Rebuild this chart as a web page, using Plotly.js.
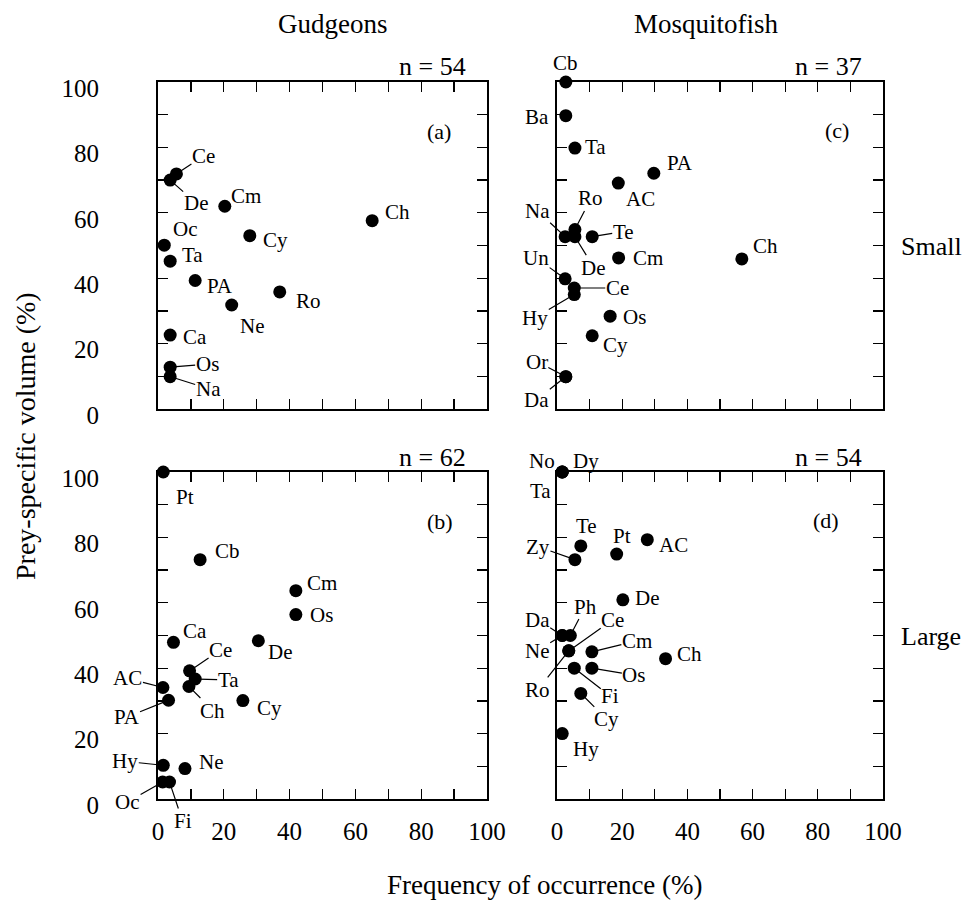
<!DOCTYPE html>
<html>
<head>
<meta charset="utf-8">
<script src="https://cdn.plot.ly/plotly-3.0.1.min.js"></script>
<style>html,body{margin:0;padding:0;background:#fff;}#chart{width:967px;height:901px;}</style>
</head>
<body>
<div id="chart"></div>
<script>
// ---------- DATA ----------
// (a) Gudgeons, Small
const aLabels = ['Ce','De','Cm','Ch','Oc','Cy','Ta','PA','Ro','Ne','Ca','Os','Na'];
const aFreq   = [5.6, 3.7, 20.3, 65.1, 1.9, 27.9, 3.7, 11.3, 37.0, 22.4, 3.7, 3.7, 3.7];
const aVol    = [71.9, 70.0, 62.0, 57.6, 50.1, 53.0, 45.2, 39.3, 35.8, 31.8, 22.6, 12.8, 9.9];

// (c) Mosquitofish, Small
const cLabels = ['Cb','Ba','Ta','PA','AC','Ro','Na','De','Te','Cm','Ch','Un','Ce','Hy','Os','Cy','Or','Da'];
const cFreq   = [2.7, 2.7, 5.5, 29.7, 18.8, 5.5, 2.5, 5.5, 10.8, 18.9, 56.7, 2.5, 5.3, 5.3, 16.3, 10.8, 2.7, 2.7];
const cVol    = [100, 89.7, 79.8, 72.1, 69.1, 54.9, 52.7, 52.7, 52.7, 46.2, 45.9, 39.8, 37.0, 35.0, 28.4, 22.4, 9.9, 9.9];

// (b) Gudgeons, Large
const bLabels = ['Pt','Cb','Cm','Os','Ca','De','Ce','Ta','Ch','AC','PA','Cy','Hy','Ne','Oc','Fi'];
const bFreq   = [1.6, 12.8, 41.9, 41.9, 4.7, 30.5, 9.6, 11.3, 9.4, 1.5, 3.2, 25.8, 1.6, 8.2, 1.4, 3.5];
const bVol    = [100, 73.2, 63.7, 56.4, 47.9, 48.4, 39.2, 36.7, 34.4, 34.1, 30.2, 30.1, 10.3, 9.3, 5.2, 5.2];

// (d) Mosquitofish, Large
const dLabels = ['No','Dy','Ta','Te','Zy','Pt','AC','De','Da','Ne','Ph','Ce','Ro','Cm','Ch','Fi','Os','Cy','Hy'];
const dFreq   = [1.6, 1.6, 1.6, 7.3, 5.5, 18.3, 27.7, 20.2, 1.6, 1.6, 4.1, 3.6, 3.6, 10.7, 33.3, 5.3, 10.7, 7.3, 1.6];
const dVol    = [100, 100, 100, 77.4, 73.2, 74.9, 79.3, 60.9, 50, 50, 50, 45.3, 45.3, 45, 42.9, 40, 40, 32.3, 20];

const sampleSizes = ['n = 54', 'n = 37', 'n = 62', 'n = 54'];
const panelTags   = ['(a)', '(c)', '(b)', '(d)'];
const fishNames   = ['Gudgeons', 'Mosquitofish'];
const sizeClasses = ['Small', 'Large'];
const tickValues  = [0, 10, 20, 30, 40, 50, 60, 70, 80, 90, 100];
const tickLabels  = ['0', '', '20', '', '40', '', '60', '', '80', '', '100'];
const xTitle = 'Frequency of occurrence (%)';
const yTitle = 'Prey-specific volume (%)';

// ---------- LABEL PLACEMENT (pixel offsets of label centre; L = leader line) ----------
const aPlace = [[27,-18,1],[26,23,1],[21,-10,0],[25,-9,0],[21,-16,0],[26,4,0],[22,-6,0],[25,6,0],[29,9,0],[21,21,0],[25,2,0],[37,-3,1],[38,12,1]];
const cPlace = [[0,-19,0],[-29,1,0],[21,-1,0],[26,-10,0],[22,16,0],[16,-31,1],[-28,-26,1],[19,31,1],[31,-5,1],[29,0,0],[24,-13,0],[-29,-21,1],[43,0,1],[-39,23,1],[24,1,0],[23,9,0],[-29,-15,1],[-29,23,1]];
const bPlace = [[22,25,0],[27,-9,0],[26,-8,0],[26,0,0],[22,-11,0],[22,11,0],[31,-21,1],[33,1,1],[24,24,1],[-35,-9,1],[-42,17,1],[27,7,0],[-38,-4,1],[27,-7,0],[-35,20,1],[13,39,1]];
const dPlace = [[-20,-11,0],[24,-11,0],[-22,19,0],[6,-20,0],[-37,-13,1],[5,-18,0],[26,5,0],[25,-2,0],[-25,-16,1],[-25,15,1],[15,-29,1],[44,-31,1],[-31,39,1],[45,-11,1],[24,-5,0],[36,28,1],[42,7,1],[26,26,1],[24,15,0]];

// ---------- BUILD ----------
const FONT = 'Liberation Serif, Times New Roman, serif';
const W = 967, H = 901;
const colX = [[158/W, 487/W], [557/W, 883/W]];
const rowY = [[1-409/H, 1-82/H], [1-799/H, 1-472/H]];

const panels = [
  {lab:aLabels, x:aFreq, y:aVol, place:aPlace, xa:'x',  ya:'y',  col:0, row:0},
  {lab:cLabels, x:cFreq, y:cVol, place:cPlace, xa:'x2', ya:'y2', col:1, row:0},
  {lab:bLabels, x:bFreq, y:bVol, place:bPlace, xa:'x3', ya:'y3', col:0, row:1},
  {lab:dLabels, x:dFreq, y:dVol, place:dPlace, xa:'x4', ya:'y4', col:1, row:1}
];

const traces = panels.map(p => ({
  type:'scatter', mode:'markers', x:p.x, y:p.y, xaxis:p.xa, yaxis:p.ya,
  marker:{color:'black', size:13, line:{width:0}}, cliponaxis:false, hoverinfo:'skip', showlegend:false
}));

function axis(domain, anchor, showLabels, isX) {
  const a = {
    domain:domain, anchor:anchor, range:[0,100], autorange:false, fixedrange:true,
    tickmode:'array', tickvals:tickValues, ticktext:tickLabels,
    ticks:'inside', ticklen:10, tickwidth:1.3, tickcolor:'black',
    showline:true, linewidth:2, linecolor:'black', mirror:'ticks',
    showgrid:false, zeroline:false, showticklabels:showLabels,
    tickfont:{family:FONT, size:25, color:'black'},
    ticklabelstandoff: isX ? 9 : 52
  };
  if (!isX) a.ticklabelshift = 6;
  return a;
}

const layout = {
  width:W, height:H, margin:{l:0, r:0, t:0, b:0},
  paper_bgcolor:'white', plot_bgcolor:'white', showlegend:false,
  font:{family:FONT, color:'black'},
  xaxis:  axis(colX[0], 'y',  false, true),
  yaxis:  axis(rowY[0], 'x',  true,  false),
  xaxis2: axis(colX[1], 'y2', false, true),
  yaxis2: axis(rowY[0], 'x2', false, false),
  xaxis3: axis(colX[0], 'y3', true,  true),
  yaxis3: axis(rowY[1], 'x3', true,  false),
  xaxis4: axis(colX[1], 'y4', true,  true),
  yaxis4: axis(rowY[1], 'x4', false, false),
  annotations:[]
};

const labFont = {family:FONT, size:21, color:'black'};
panels.forEach((p, k) => {
  p.lab.forEach((t, i) => {
    const [dx, dy, lead] = p.place[i];
    if (lead) {
      layout.annotations.push({xref:p.xa, yref:p.ya, x:p.x[i], y:p.y[i], text:t, font:labFont,
        showarrow:true, arrowhead:0, arrowwidth:1.2, arrowcolor:'black', ax:dx, ay:dy, standoff:3, borderpad:0});
    } else {
      layout.annotations.push({xref:p.xa, yref:p.ya, x:p.x[i], y:p.y[i], text:t, font:labFont,
        showarrow:false, xanchor:'center', yanchor:'middle', xshift:dx, yshift:-dy});
    }
  });
  // sample size and panel tag
  const dom = {x:p.xa + ' domain', y:p.ya + ' domain'};
  layout.annotations.push({xref:dom.x, yref:dom.y, x:1, y:1, xanchor:'right', yanchor:'middle',
    xshift:-19, yshift:15, text:sampleSizes[k], showarrow:false, font:{family:FONT, size:26, color:'black'}});
  const tagShift = [[-48,-50],[-46,-49],[-47,-49],[-57,-48]][k];
  layout.annotations.push({xref:dom.x, yref:dom.y, x:1, y:1, xanchor:'center', yanchor:'middle',
    xshift:tagShift[0], yshift:tagShift[1], text:panelTags[k], showarrow:false, font:{family:FONT, size:22, color:'black'}});
});

// column / row titles and axis titles
layout.annotations.push({xref:'paper', yref:'paper', x:333/W, y:1-24/H, text:fishNames[0], showarrow:false, xanchor:'center', yanchor:'middle', font:{family:FONT, size:27, color:'black'}});
layout.annotations.push({xref:'paper', yref:'paper', x:706/W, y:1-24/H, text:fishNames[1], showarrow:false, xanchor:'center', yanchor:'middle', font:{family:FONT, size:27, color:'black'}});
layout.annotations.push({xref:'paper', yref:'paper', x:931/W, y:1-246/H, text:sizeClasses[0], showarrow:false, xanchor:'center', yanchor:'middle', font:{family:FONT, size:26, color:'black'}});
layout.annotations.push({xref:'paper', yref:'paper', x:931/W, y:1-636/H, text:sizeClasses[1], showarrow:false, xanchor:'center', yanchor:'middle', font:{family:FONT, size:26, color:'black'}});
layout.annotations.push({xref:'paper', yref:'paper', x:545/W, y:1-885/H, text:xTitle, showarrow:false, xanchor:'center', yanchor:'middle', font:{family:FONT, size:27, color:'black'}});
layout.annotations.push({xref:'paper', yref:'paper', x:25/W, y:1-436/H, text:yTitle, showarrow:false, textangle:-90, xanchor:'center', yanchor:'middle', font:{family:FONT, size:28, color:'black'}});

Plotly.newPlot('chart', traces, layout, {staticPlot:true, displayModeBar:false});
</script>
</body>
</html>
